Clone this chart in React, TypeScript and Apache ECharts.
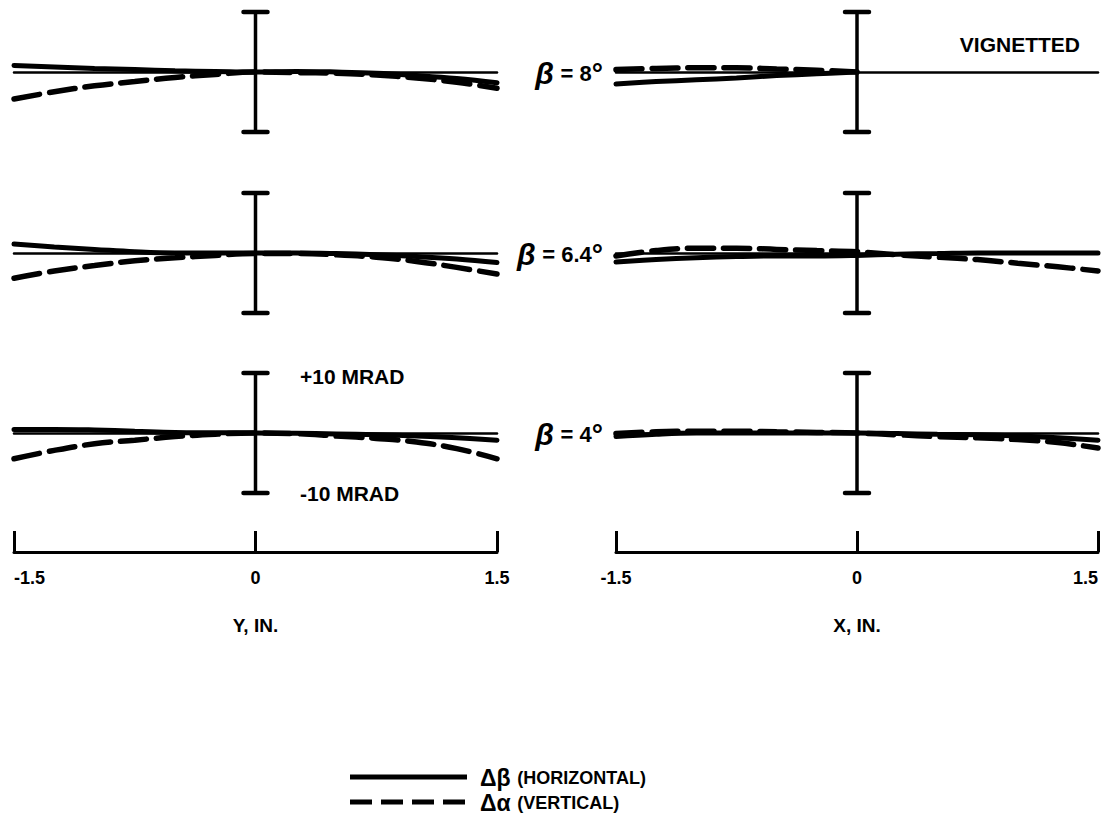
import React, { useEffect, useRef } from "react";
import * as echarts from "echarts";

// ---- data (mrad vs inches) ----
const xIn = [-1.5, -1.25, -1.0, -0.75, -0.5, -0.25, 0, 0.25, 0.5, 0.75, 1.0, 1.25, 1.5];
const betaLabels = ["8", "6.4", "4"];

// Y-scan panels (left column)
const yB8Solid = [1.1, 0.85, 0.6, 0.4, 0.2, 0.1, 0, 0.1, 0, -0.2, -0.6, -1.1, -1.8];
const yB8Dash = [-4.5, -3.3, -2.3, -1.6, -0.9, -0.4, 0, -0.1, -0.2, -0.5, -1.0, -1.7, -2.7];
const yB64Solid = [1.5, 1.0, 0.6, 0.2, 0, 0, 0, 0, -0.1, -0.3, -0.6, -1.0, -1.6];
const yB64Dash = [-4.2, -3.0, -2.1, -1.3, -0.8, -0.4, -0.1, -0.1, -0.3, -0.7, -1.4, -2.4, -3.5];
const yB4Solid = [0.6, 0.6, 0.5, 0.3, 0.1, 0.05, 0, -0.05, -0.15, -0.3, -0.5, -0.8, -1.2];
const yB4Dash = [-4.3, -2.9, -1.8, -1.2, -0.6, -0.2, 0, -0.1, -0.5, -0.9, -1.5, -2.6, -4.3];

// X-scan panels (right column); beta = 8 deg vignetted for X > 0
const xB8Solid = [-2.0, -1.6, -1.3, -1.0, -0.6, -0.3, 0, null, null, null, null, null, null];
const xB8Dash = [0.4, 0.6, 0.7, 0.7, 0.5, 0.3, 0, null, null, null, null, null, null];
const xB64Solid = [-1.5, -1.1, -0.8, -0.6, -0.5, -0.5, -0.4, -0.2, -0.1, 0, 0, 0, 0];
const xB64Dash = [-0.5, 0.4, 0.8, 0.8, 0.6, 0.4, 0.2, -0.3, -0.7, -1.1, -1.7, -2.3, -3.0];
const xB4Solid = [-0.6, -0.2, 0, 0, 0, 0, 0, -0.1, -0.2, -0.3, -0.5, -0.8, -1.2];
const xB4Dash = [-0.1, 0.2, 0.3, 0.3, 0.2, 0.1, 0, -0.3, -0.6, -0.8, -1.1, -1.6, -2.5];

const errorBar = [0, -10, 10]; // +/-10 MRAD reference bar at 0
const scaleTicks = [-1.5, 0, 1.5];
const axisTitles = ["Y, IN.", "X, IN."];
const legendNames = ["Δβ (HORIZONTAL)", "Δα (VERTICAL)"];

const solidSets = [
  [yB8Solid, xB8Solid],
  [yB64Solid, xB64Solid],
  [yB4Solid, xB4Solid],
];
const dashSets = [
  [yB8Dash, xB8Dash],
  [yB64Dash, xB64Dash],
  [yB4Dash, xB4Dash],
];

const FONT = '"Liberation Sans", Arial, sans-serif';
const colLeft = [14, 616];
const colWidth = [483, 482];
const rowTop = [12, 193, 373];
const rowH = 120;

function pairs(vals: (number | null)[]) {
  return xIn.map((x, i) => [x, vals[i]]);
}

const renderErrorBar = (_params: any, api: any) => {
  const lo = api.coord([api.value(0), api.value(1)]);
  const hi = api.coord([api.value(0), api.value(2)]);
  const cap = 12;
  const st = { stroke: "#000", lineWidth: 3.5 };
  return {
    type: "group",
    children: [
      { type: "line", shape: { x1: lo[0], y1: lo[1], x2: hi[0], y2: hi[1] }, style: st },
      { type: "line", shape: { x1: lo[0] - cap, y1: lo[1], x2: lo[0] + cap, y2: lo[1] }, style: { ...st, lineWidth: 4.5, lineCap: "round" } },
      { type: "line", shape: { x1: hi[0] - cap, y1: hi[1], x2: hi[0] + cap, y2: hi[1] }, style: { ...st, lineWidth: 4.5, lineCap: "round" } },
    ],
  };
};

export default function App() {
  const ref = useRef<HTMLDivElement>(null);
  useEffect(() => {
    document.body.style.margin = "0";
    const chart = echarts.init(ref.current!, undefined, { renderer: "svg" });
    const grid: any[] = [];
    const xAxis: any[] = [];
    const yAxis: any[] = [];
    const series: any[] = [];
    for (let r = 0; r < 3; r++) {
      for (let c = 0; c < 2; c++) {
        const gi = grid.length;
        grid.push({ left: colLeft[c], width: colWidth[c], top: rowTop[r], height: rowH });
        xAxis.push({
          gridIndex: gi, type: "value", min: -1.5, max: 1.5,
          axisLine: { show: true, onZero: true, lineStyle: { color: "#000", width: 2.5 } },
          axisTick: { show: false }, axisLabel: { show: false }, splitLine: { show: false },
        });
        yAxis.push({ gridIndex: gi, type: "value", min: -10, max: 10, show: false, splitLine: { show: false } });
        series.push({
          type: "line", name: legendNames[0], xAxisIndex: gi, yAxisIndex: gi,
          data: pairs(solidSets[r][c]), smooth: 0.4, symbol: "none",
          lineStyle: { color: "#000", width: 5, cap: "round" },
        });
        series.push({
          type: "line", name: legendNames[1], xAxisIndex: gi, yAxisIndex: gi,
          data: pairs(dashSets[r][c]), smooth: 0.4, symbol: "none",
          lineStyle: { color: "#000", width: 5.5, type: [26, 10], cap: "round" },
        });
        series.push({
          type: "custom", xAxisIndex: gi, yAxisIndex: gi,
          data: [errorBar], encode: { x: 0, y: [1, 2] },
          renderItem: renderErrorBar, silent: true,
        });
      }
    }
    // bottom bracket scales
    for (let c = 0; c < 2; c++) {
      const gi = grid.length;
      grid.push({ left: colLeft[c], width: colWidth[c], top: 531, height: 21 });
      xAxis.push({
        gridIndex: gi, type: "value", min: scaleTicks[0], max: scaleTicks[2], interval: 1.5,
        position: "bottom",
        axisLine: { show: true, onZero: false, lineStyle: { color: "#000", width: 3 } },
        axisTick: { show: true, inside: true, length: 21, lineStyle: { color: "#000", width: 3 } },
        axisLabel: {
          show: true, color: "#000", fontFamily: FONT, fontWeight: "bold", fontSize: 18, margin: 17,
          alignMinLabel: c === 0 ? "left" : "center",
          alignMaxLabel: c === 1 ? "right" : "center",
          formatter: (v: number) => (v === 0 ? "0" : String(v)),
        },
        splitLine: { show: false },
        name: axisTitles[c], nameLocation: "middle", nameGap: 64,
        nameTextStyle: { color: "#000", fontFamily: FONT, fontWeight: "bold", fontSize: 19 },
      });
      yAxis.push({ gridIndex: gi, type: "value", min: 0, max: 1, show: false, splitLine: { show: false } });
    }

    const graphic: any[] = [];
    const rowZeroY = rowTop.map((t) => t + rowH / 2);
    betaLabels.forEach((b, r) => {
      graphic.push({
        type: "text", x: 603, y: rowZeroY[r] + 1,
        style: {
          text: `{g|β}  {n|= ${b}}{d|°}`,
          align: "right", verticalAlign: "middle", fill: "#000",
          rich: {
            g: { fontFamily: FONT, fontWeight: "bold", fontStyle: "italic", fontSize: 30, fill: "#000" },
            n: { fontFamily: FONT, fontWeight: "bold", fontSize: 22, fill: "#000" },
            d: { fontFamily: FONT, fontWeight: "bold", fontSize: 28, fill: "#000" },
          },
        },
      });
    });
    graphic.push({
      type: "text", x: 1080, y: 44,
      style: { text: "VIGNETTED", align: "right", verticalAlign: "middle", fill: "#000", fontFamily: FONT, fontWeight: "bold", fontSize: 21 },
    });
    graphic.push({
      type: "text", x: 300, y: 376,
      style: { text: "+10 MRAD", align: "left", verticalAlign: "middle", fill: "#000", fontFamily: FONT, fontWeight: "bold", fontSize: 21 },
    });
    graphic.push({
      type: "text", x: 300, y: 493,
      style: { text: "-10 MRAD", align: "left", verticalAlign: "middle", fill: "#000", fontFamily: FONT, fontWeight: "bold", fontSize: 21 },
    });
    // legend
    graphic.push({ type: "line", shape: { x1: 350, y1: 777, x2: 467, y2: 777 }, style: { stroke: "#000", lineWidth: 5 } });
    graphic.push({ type: "line", shape: { x1: 350, y1: 802, x2: 467, y2: 802 }, style: { stroke: "#000", lineWidth: 5, lineDash: [22, 9] } });
    const legRich = {
      g: { fontFamily: FONT, fontWeight: "bold", fontSize: 23, lineHeight: 22, fill: "#000" },
      n: { fontFamily: FONT, fontWeight: "bold", fontSize: 18, lineHeight: 22, fill: "#000" },
    };
    graphic.push({
      type: "text", x: 480, y: 778,
      style: { text: "{g|Δβ}  {n|(HORIZONTAL)}", verticalAlign: "middle", fill: "#000", rich: legRich },
    });
    graphic.push({
      type: "text", x: 480, y: 803,
      style: { text: "{g|Δα}  {n|(VERTICAL)}", verticalAlign: "middle", fill: "#000", rich: legRich },
    });

    chart.setOption({
      animation: false,
      backgroundColor: "#fff",
      grid, xAxis, yAxis, series, graphic,
    });
    return () => chart.dispose();
  }, []);
  return <div ref={ref} style={{ width: 1105, height: 829 }} />;
}
